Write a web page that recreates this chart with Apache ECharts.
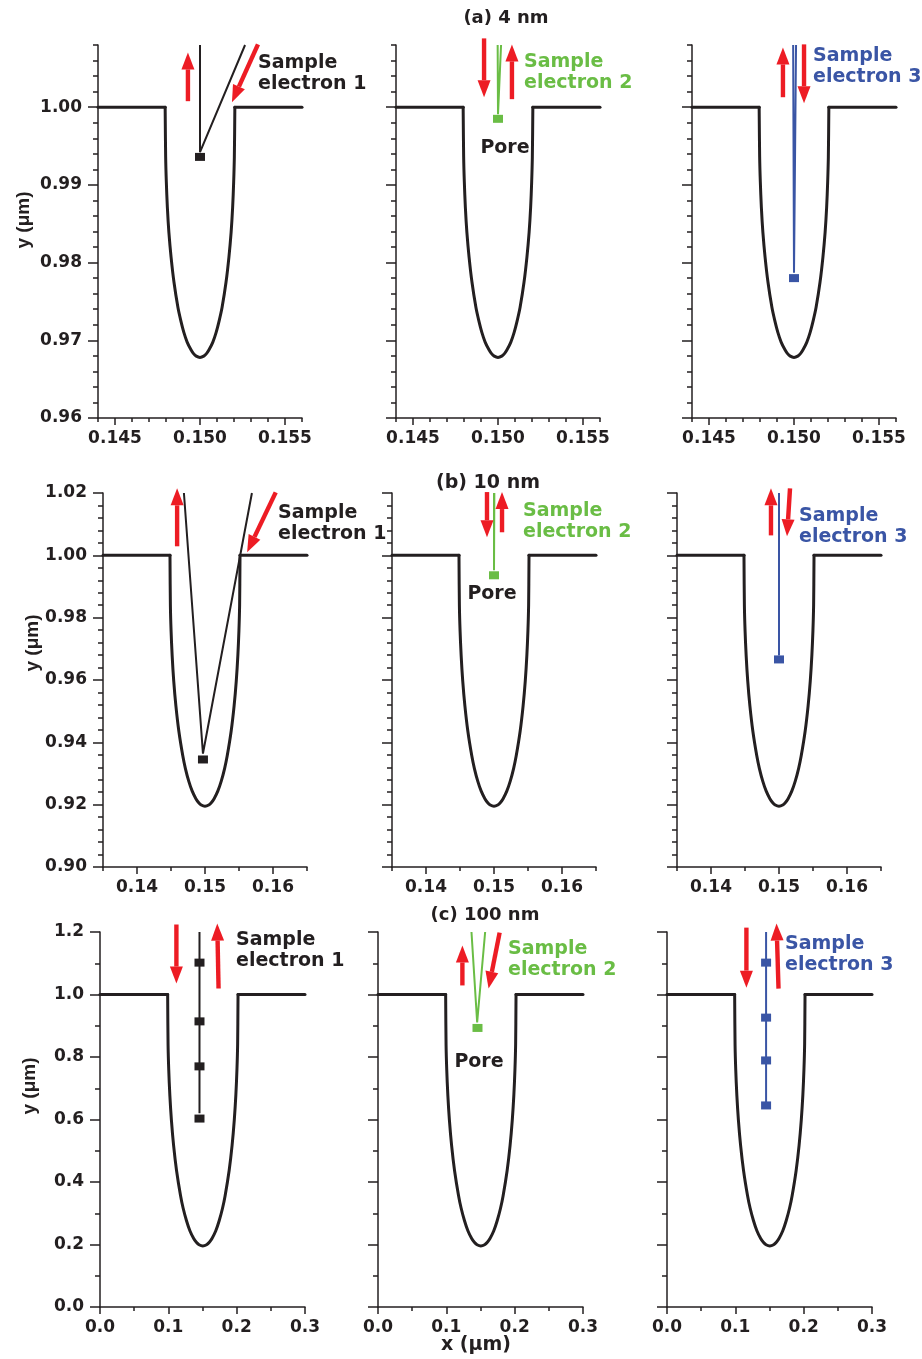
<!DOCTYPE html>
<html>
<head>
<meta charset="utf-8">
<script src="https://cdn.jsdelivr.net/npm/echarts@6.0.0/dist/echarts.min.js"></script>
<style>
  html, body { margin: 0; padding: 0; background: #ffffff; }
  #chart { width: 922px; height: 1359px; }
</style>
</head>
<body>
<div id="chart"></div>
<script>
// ---------------- DATA ----------------
// Pore profiles (x, y in µm)
const poreA = [[0.144,1.000],[0.14795,1.000],[0.14798,0.99356],[0.14802,0.99034],[0.14808,0.98712],[0.14817,0.98390],[0.14830,0.98068],[0.14847,0.97746],[0.14870,0.97424],[0.14886,0.97263],[0.14905,0.97102],[0.14925,0.96973],[0.14947,0.96877],[0.14962,0.96828],[0.14978,0.96796],[0.15000,0.96780],
  [0.15022,0.96796],[0.15038,0.96828],[0.15053,0.96877],[0.15075,0.96973],[0.15095,0.97102],[0.15114,0.97263],[0.15130,0.97424],[0.15153,0.97746],[0.15170,0.98068],[0.15183,0.98390],[0.15192,0.98712],[0.15198,0.99034],[0.15202,0.99356],[0.15205,1.000],[0.156,1.000]];
const poreB = [[0.135,1.000],[0.14485,1.000],[0.14491,0.9839],[0.14501,0.97585],[0.14517,0.9678],[0.14540,0.95975],[0.14572,0.9517],[0.14615,0.94365],[0.14674,0.9356],[0.14712,0.93158],[0.14761,0.92755],[0.14812,0.92433],[0.14866,0.92192],[0.14905,0.92071],[0.14945,0.91990],[0.15000,0.91950],
  [0.15055,0.91990],[0.15095,0.92071],[0.15134,0.92192],[0.15188,0.92433],[0.15239,0.92755],[0.15288,0.93158],[0.15326,0.9356],[0.15385,0.94365],[0.15428,0.9517],[0.15460,0.95975],[0.15483,0.9678],[0.15499,0.97585],[0.15509,0.9839],[0.15515,1.000],[0.165,1.000]];
const poreC = [[0.0,1.0],[0.0990,1.0],[0.0996,0.839],[0.1006,0.759],[0.1022,0.678],[0.1045,0.598],[0.1077,0.517],[0.1120,0.437],[0.1179,0.356],[0.1217,0.316],[0.1266,0.276],[0.1317,0.243],[0.1371,0.219],[0.1410,0.207],[0.1450,0.199],[0.1505,0.195],
  [0.1560,0.199],[0.1600,0.207],[0.1639,0.219],[0.1693,0.243],[0.1744,0.276],[0.1793,0.316],[0.1831,0.356],[0.1890,0.437],[0.1933,0.517],[0.1965,0.598],[0.1988,0.678],[0.2004,0.759],[0.2014,0.839],[0.2020,1.0],[0.3,1.0]];

// Sample electron trajectories
const trajA1 = [[0.1500,1.008],[0.1500,0.9942],[0.15265,1.008]];
const trajA2 = [[0.14998,1.008],[0.1500,0.9991],[0.15018,1.008]];
const trajA3 = [[0.14995,1.008],[0.1500,0.9787],[0.15012,1.008]];
const trajB1 = [[0.1469,1.02],[0.1497,0.9364],[0.1569,1.02]];
const trajB2 = [[0.1500,1.02],[0.1500,0.9952],[0.15005,1.02]];
const trajB3 = [[0.1500,1.02],[0.1500,0.9679],[0.1500,1.02]];
const trajC1 = [[0.1456,1.2],[0.1456,0.62],[0.1456,1.2]];
const trajC2 = [[0.1368,1.2],[0.1451,0.911],[0.1568,1.2]];
const trajC3 = [[0.1450,1.2],[0.1450,0.655],[0.1450,1.2]];

// Marker points (squares)
const markA1 = [[0.1500,0.9936]];
const markA2 = [[0.1500,0.9985]];
const markA3 = [[0.1500,0.9780]];
const markB1 = [[0.1497,0.9345]];
const markB2 = [[0.1500,0.9936]];
const markB3 = [[0.1500,0.9666]];
const markC1 = [[0.1456,1.102],[0.1456,0.914],[0.1456,0.770],[0.1456,0.603]];
const markC2 = [[0.1456,0.893]];
const markC3 = [[0.1450,1.102],[0.1450,0.926],[0.1450,0.789],[0.1450,0.645]];

// Red direction arrows [x1, y1, x2(tip), y2(tip)]
const arrowsA1 = [[0.14929,1.00077,0.14929,1.00705],[0.15341,1.00808,0.15188,1.00064]];
const arrowsA2 = [[0.14918,1.00885,0.14918,1.00128],[0.15082,1.00103,0.15082,1.00808]];
const arrowsA3 = [[0.14935,1.00128,0.14935,1.00769],[0.15059,1.00808,0.15059,1.00051]];
const arrowsB1 = [[0.1459,1.0029,0.1459,1.0215],[0.1604,1.0202,0.1562,1.0010]];
const arrowsB2 = [[0.14897,1.0203,0.14897,1.0058],[0.15118,1.0074,0.15118,1.0203]];
const arrowsB3 = [[0.14882,1.0064,0.14882,1.0215],[0.15162,1.0215,0.15118,1.0061]];
const arrowsC1 = [[0.1118,1.224,0.1118,1.035],[0.1735,1.019,0.1716,1.227]];
const arrowsC2 = [[0.1235,1.029,0.1235,1.157],[0.1780,1.198,0.1618,1.019]];
const arrowsC3 = [[0.1162,1.214,0.1162,1.022],[0.1632,1.019,0.1603,1.227]];

// Axis ticks
const xTicksA = [0.145, 0.150, 0.155];
const yTicksA = [0.96, 0.97, 0.98, 0.99, 1.00];
const xTicksB = [0.14, 0.15, 0.16];
const yTicksB = [0.90, 0.92, 0.94, 0.96, 0.98, 1.00, 1.02];
const xTicksC = [0.0, 0.1, 0.2, 0.3];
const yTicksC = [0.0, 0.2, 0.4, 0.6, 0.8, 1.0, 1.2];

const rowTitles = ['(a) 4 nm', '(b) 10 nm', '(c) 100 nm'];
const electronLabels = ['Sample\nelectron 1', 'Sample\nelectron 2', 'Sample\nelectron 3'];

// ---------------- STYLE / LAYOUT ----------------
const BLACK = '#231f20', GREEN = '#6abd45', BLUE = '#3a55a5', RED = '#ed1c24';
const FONT = 'DejaVu Sans';
const colColors = [BLACK, GREEN, BLUE];

const rows = [
  { xmin:0.144, xmax:0.156, xminor:0.001, ymin:0.96, ymax:1.008, yminor:0.002, xt:xTicksA, yt:yTicksA, xd:3, yd:2,
    top:45, height:373, lefts:[98,396,692], width:204, pore:poreA,
    traj:[trajA1,trajA2,trajA3], mark:[markA1,markA2,markA3], arrows:[arrowsA1,arrowsA2,arrowsA3] },
  { xmin:0.135, xmax:0.165, xminor:0.005, ymin:0.90, ymax:1.02, yminor:0.004, xt:xTicksB, yt:yTicksB, xd:2, yd:2,
    top:493, height:374, lefts:[103,392,677], width:204, pore:poreB,
    traj:[trajB1,trajB2,trajB3], mark:[markB1,markB2,markB3], arrows:[arrowsB1,arrowsB2,arrowsB3] },
  { xmin:0.0, xmax:0.3, xminor:0.05, ymin:0.0, ymax:1.2, yminor:0.1, xt:xTicksC, yt:yTicksC, xd:1, yd:1,
    top:932, height:375, lefts:[100,378,667], width:205, pore:poreC,
    traj:[trajC1,trajC2,trajC3], mark:[markC1,markC2,markC3], arrows:[arrowsC1,arrowsC2,arrowsC3] }
];

const grids = [], xAxes = [], yAxes = [], series = [];
const axisLineStyle = { color: BLACK, width: 1.5 };
const labelStyle = { fontFamily: FONT, fontWeight: 'bold', fontSize: 17, color: BLACK };

function arrowRender(params, api) {
  const p1 = api.coord([api.value(0), api.value(1)]);
  const p2 = api.coord([api.value(2), api.value(3)]);
  const dx = p2[0] - p1[0], dy = p2[1] - p1[1];
  const len = Math.sqrt(dx * dx + dy * dy) || 1;
  const ux = dx / len, uy = dy / len, nx = -uy, ny = ux;
  const H = 17, W = 6.5, S = 2.2;
  const bx = p2[0] - ux * H, by = p2[1] - uy * H;
  return {
    type: 'group',
    children: [
      { type: 'polygon', shape: { points: [
          [p1[0] + nx * S, p1[1] + ny * S], [bx + nx * S, by + ny * S],
          [bx - nx * S, by - ny * S], [p1[0] - nx * S, p1[1] - ny * S]] },
        style: { fill: RED } },
      { type: 'polygon', shape: { points: [
          [bx + nx * W, by + ny * W], [p2[0], p2[1]], [bx - nx * W, by - ny * W]] },
        style: { fill: RED } }
    ]
  };
}

rows.forEach((r, ri) => {
  const n = r.pore.length;
  const poreParts = [r.pore.slice(0, 2), r.pore.slice(1, n - 1), r.pore.slice(n - 2)];
  for (let c = 0; c < 3; c++) {
    const g = grids.length;
    grids.push({ left: r.lefts[c], top: r.top, width: r.width, height: r.height });
    const xi = xAxes.length, yi = yAxes.length;
    // main x axis (major ticks + labels)
    xAxes.push({ gridIndex: g, type: 'value', position: 'bottom', min: r.xmin, max: r.xmax,
      axisLine: { show: true, onZero: false, lineStyle: axisLineStyle },
      axisTick: { show: true, customValues: r.xt, length: 7, lineStyle: axisLineStyle },
      axisLabel: { show: true, customValues: r.xt, formatter: v => Number(v).toFixed(r.xd), margin: 12, ...labelStyle },
      splitLine: { show: false } });
    // minor x ticks
    xAxes.push({ gridIndex: g, type: 'value', position: 'bottom', min: r.xmin, max: r.xmax, interval: r.xminor,
      axisLine: { show: false }, axisTick: { show: true, length: 4, lineStyle: axisLineStyle },
      axisLabel: { show: false }, splitLine: { show: false } });
    // main y axis
    yAxes.push({ gridIndex: g, type: 'value', position: 'left', min: r.ymin, max: r.ymax,
      axisLine: { show: true, onZero: false, lineStyle: axisLineStyle },
      axisTick: { show: true, customValues: r.yt, length: 10, lineStyle: axisLineStyle },
      axisLabel: { show: c === 0, customValues: r.yt, formatter: v => Number(v).toFixed(r.yd), margin: 16, ...labelStyle },
      splitLine: { show: false } });
    // minor y ticks
    yAxes.push({ gridIndex: g, type: 'value', position: 'left', min: r.ymin, max: r.ymax, interval: r.yminor,
      axisLine: { show: false }, axisTick: { show: true, length: 5, lineStyle: axisLineStyle },
      axisLabel: { show: false }, splitLine: { show: false } });

    poreParts.forEach((part, pi) => {
      series.push({ type: 'line', xAxisIndex: xi, yAxisIndex: yi, data: part, symbol: 'none',
        smooth: pi === 1 ? 0.3 : false,
        lineStyle: { color: BLACK, width: 3, cap: 'round', join: 'round' }, silent: true, z: 3 });
    });
    series.push({ type: 'line', xAxisIndex: xi, yAxisIndex: yi, data: r.traj[c], symbol: 'none',
      lineStyle: { color: colColors[c], width: 2 }, silent: true, z: 4, clip: true });
    series.push({ type: 'scatter', xAxisIndex: xi, yAxisIndex: yi, data: r.mark[c], symbol: 'rect',
      symbolSize: [10, 8], itemStyle: { color: colColors[c], opacity: 1 }, silent: true, z: 5 });
    series.push({ type: 'custom', xAxisIndex: xi, yAxisIndex: yi, data: r.arrows[c],
      renderItem: arrowRender, clip: false, silent: true, z: 6,
      encode: { x: [0, 2], y: [1, 3] } });
  }
});

// Text annotations
const textStyleBase = { fontFamily: FONT, fontWeight: 'bold', fill: BLACK };
const yNameStyle = { fontFamily: 'Liberation Sans', fontWeight: 'bold', fill: BLACK, fontSize: 19, align: 'center', verticalAlign: 'middle', text: 'y (\u03bcm)' };
const graphics = [
  { type: 'text', x: 506, y: 18, style: { ...textStyleBase, text: rowTitles[0], fontSize: 18, align: 'center', verticalAlign: 'middle' } },
  { type: 'text', x: 488, y: 483, style: { ...textStyleBase, text: rowTitles[1], fontSize: 19, align: 'center', verticalAlign: 'middle' } },
  { type: 'text', x: 485, y: 915, style: { ...textStyleBase, text: rowTitles[2], fontSize: 18, align: 'center', verticalAlign: 'middle' } },
  { type: 'text', x: 476, y: 1345, style: { ...textStyleBase, text: 'x (\u03bcm)', fontSize: 19, align: 'center', verticalAlign: 'middle' } },
  { type: 'text', x: 24, y: 220, rotation: Math.PI / 2, style: yNameStyle },
  { type: 'text', x: 33, y: 643, rotation: Math.PI / 2, style: yNameStyle },
  { type: 'text', x: 30, y: 1086, rotation: Math.PI / 2, style: yNameStyle },
  { type: 'text', x: 505, y: 148, style: { ...textStyleBase, text: 'Pore', fontSize: 19, align: 'center', verticalAlign: 'middle' } },
  { type: 'text', x: 492, y: 594, style: { ...textStyleBase, text: 'Pore', fontSize: 19, align: 'center', verticalAlign: 'middle' } },
  { type: 'text', x: 479, y: 1062, style: { ...textStyleBase, text: 'Pore', fontSize: 19, align: 'center', verticalAlign: 'middle' } }
];
const labelPos = [
  [[258, 63], [524, 62], [813, 56]],
  [[278, 513], [523, 511], [799, 516]],
  [[236, 940], [508, 949], [785, 944]]
];
labelPos.forEach((rowPos) => rowPos.forEach((p, c) => {
  graphics.push({ type: 'text', x: p[0], y: p[1] - 10.5, style: { ...textStyleBase, fill: colColors[c],
    text: electronLabels[c], fontSize: 19, lineHeight: 21, align: 'left', verticalAlign: 'top' } });
}));

const chart = echarts.init(document.getElementById('chart'), null, { renderer: 'canvas' });
chart.setOption({
  animation: false,
  backgroundColor: '#ffffff',
  grid: grids,
  xAxis: xAxes,
  yAxis: yAxes,
  series: series,
  graphic: graphics
});
</script>
</body>
</html>
